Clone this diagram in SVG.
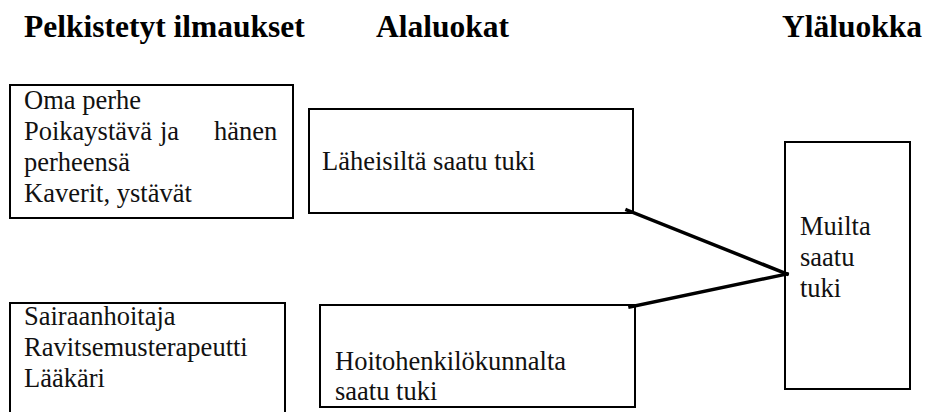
<svg xmlns="http://www.w3.org/2000/svg" width="925" height="412" viewBox="0 0 925 412">
<style>
.box{fill:#fff;stroke:#000;stroke-width:2}
.hd{font-family:"Liberation Serif","Times New Roman",serif;font-weight:bold;font-size:31.5px;fill:#000}
.tx{font-family:"Liberation Serif","Times New Roman",serif;font-size:26.5px;fill:#111}
.con{stroke:#000;stroke-width:3.5;fill:none;stroke-linecap:square}
</style>
<rect width="925" height="412" fill="#fff"/>
<g id="headers">
<text class="hd" x="24" y="37">Pelkistetyt ilmaukset</text>
<text class="hd" x="376" y="37">Alaluokat</text>
<text class="hd" x="782" y="37">Yläluokka</text>
</g>
<g id="node-pelkistetyt-1">
<rect class="box" x="10" y="85" width="283" height="133"/>
<text class="tx"><tspan x="24" y="109">Oma perhe</tspan><tspan x="24" y="140">Poikaystävä</tspan><tspan x="160" y="140">ja</tspan><tspan x="214" y="140">hänen</tspan><tspan x="24" y="171">perheensä</tspan><tspan x="24" y="202">Kaverit, ystävät</tspan></text>
</g>
<g id="node-laheisilta">
<rect class="box" x="309" y="109" width="324" height="104"/>
<text class="tx" x="322" y="170">Läheisiltä saatu tuki</text>
</g>
<g id="node-pelkistetyt-2">
<rect class="box" x="10" y="303" width="275" height="120"/>
<text class="tx"><tspan x="24" y="325">Sairaanhoitaja</tspan><tspan x="24" y="356">Ravitsemusterapeutti</tspan><tspan x="24" y="387">Lääkäri</tspan></text>
</g>
<g id="node-hoitohenkilokunnalta">
<rect class="box" x="320" y="305" width="315" height="102"/>
<text class="tx"><tspan x="335" y="370">Hoitohenkilökunnalta</tspan><tspan x="335" y="400">saatu tuki</tspan></text>
</g>
<g id="node-muilta">
<rect class="box" x="785" y="142" width="125" height="247"/>
<text class="tx"><tspan x="800" y="235">Muilta</tspan><tspan x="800" y="266">saatu</tspan><tspan x="800" y="297">tuki</tspan></text>
</g>
<g id="connectors">
<line class="con" x1="627" y1="210" x2="787" y2="274"/>
<line class="con" x1="630" y1="307" x2="787" y2="274"/>
</g>
</svg>
